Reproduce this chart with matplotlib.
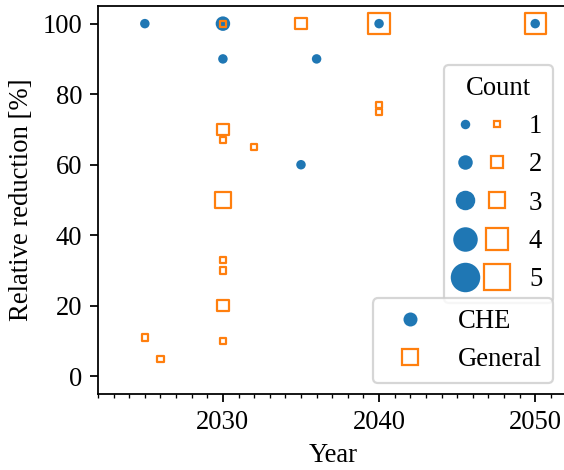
import numpy as np
import matplotlib.pyplot as plt
from matplotlib.lines import Line2D
from matplotlib.legend_handler import HandlerTuple
from matplotlib.ticker import MultipleLocator

plt.rcParams['font.family'] = ['Liberation Serif', 'DejaVu Serif']
plt.rcParams['font.size'] = 12

# CHE targets
che_year = [2025, 2030, 2030, 2036, 2035, 2040, 2050]
che_red = [100, 100, 90, 90, 60, 100, 100]
che_cnt = [1, 2, 1, 1, 1, 1, 1]

# general targets
gen_year = [2030, 2035, 2040, 2050, 2030, 2030, 2032, 2040, 2040,
            2030, 2030, 2030, 2030, 2030, 2025, 2026]
gen_red = [100, 100, 100, 100, 70, 67, 65, 77, 75,
           50, 33, 30, 20, 10, 11, 5]
gen_cnt = [1, 2, 4, 4, 2, 1, 1, 1, 1,
           3, 1, 1, 2, 1, 1, 1]

counts = [1, 2, 3, 4, 5]

blue = '#1f77b4'
orange = '#ff7f0e'
DPI = 160
PX = 72.0 / DPI  # points per pixel


def circ_pt(n):
    return (4.5 + 5 * np.asarray(n)) * PX


def sq_pt(n):
    return (1.2 + 5 * np.asarray(n)) * PX


fig = plt.figure(figsize=(564 / DPI, 470 / DPI), dpi=DPI)
ax = fig.add_axes([98 / 564, 76 / 470, 470 / 564, 388 / 470])

ax.scatter(che_year, che_red, s=circ_pt(che_cnt) ** 2, color=blue,
           linewidths=0, zorder=2)
ax.scatter(gen_year, gen_red, s=sq_pt(gen_cnt) ** 2, marker='s',
           facecolors='none', edgecolors=orange, linewidths=1.0, zorder=3)

ax.set_xlim(2022, 2052.1)
ax.set_ylim(-5, 105)
ax.spines['right'].set_visible(False)
ax.xaxis.set_major_locator(MultipleLocator(10))
ax.xaxis.set_minor_locator(MultipleLocator(1))
ax.set_yticks([0, 20, 40, 60, 80, 100])
ax.set_xlabel('Year')
ax.set_ylabel('Relative reduction [%]')

# size legend
handles = []
for n in counts:
    c = Line2D([], [], marker='o', ls='none', color=blue, mew=0,
               markersize=circ_pt(n))
    q = Line2D([], [], marker='s', ls='none', mfc='none', mec=orange,
               mew=1.0, markersize=sq_pt(n))
    handles.append((c, q))
leg1 = ax.legend(handles, [str(n) for n in counts], title='Count',
                 handler_map={tuple: HandlerTuple(ndivide=None)},
                 loc='upper right', bbox_to_anchor=(553 / 564, 1 - 65 / 470),
                 bbox_transform=fig.transFigure, borderaxespad=0)
ax.add_artist(leg1)

h2 = [Line2D([], [], marker='o', ls='none', color=blue, mew=0,
             markersize=14 * PX),
      Line2D([], [], marker='s', ls='none', mfc='none', mec=orange,
             mew=1.0, markersize=15.8 * PX)]
ax.legend(h2, ['CHE', 'General'], loc='lower right',
          bbox_to_anchor=(553 / 564, 1 - 383 / 470),
          bbox_transform=fig.transFigure, borderaxespad=0)

fig.savefig('out.png', dpi=DPI)
